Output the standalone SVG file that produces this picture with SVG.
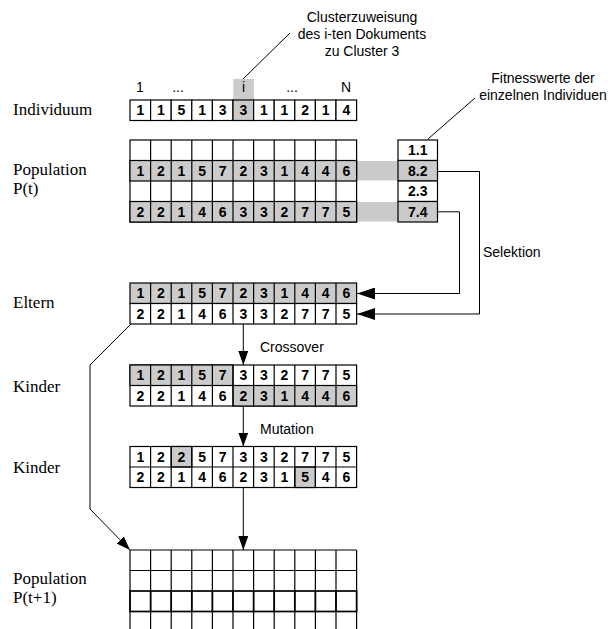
<svg xmlns="http://www.w3.org/2000/svg" width="613" height="629" viewBox="0 0 613 629">
<style>
.c{fill:#fff;stroke:#000;stroke-width:1.2}
.g{fill:#cbcbcb;stroke:#000;stroke-width:1.2}
.d{font-family:"Liberation Sans",Arial,sans-serif;font-weight:bold;font-size:14px;text-anchor:middle}
.s{font-family:"Liberation Sans",Arial,sans-serif;font-size:14px}
.m{text-anchor:middle}
.lbl{font-family:"Liberation Serif","Times New Roman",serif;font-size:17px}
.ln{fill:none;stroke:#000;stroke-width:1}
.bar{fill:#cbcbcb}
</style>
<defs>
<marker id="ah" viewBox="0 0 18 12" refX="18" refY="6" markerWidth="18" markerHeight="12" markerUnits="userSpaceOnUse" orient="auto">
<path d="M0,0 L18,6 L0,12 z" fill="#000"/>
</marker>
<marker id="av" viewBox="0 0 14 10" refX="14" refY="5" markerWidth="14" markerHeight="10" markerUnits="userSpaceOnUse" orient="auto">
<path d="M0,0 L14,5 L0,10 z" fill="#000"/>
</marker>
</defs>
<rect width="613" height="629" fill="#fff"/>

<g id="labels">
<text class="lbl" x="13" y="115">Individuum</text>
<text class="lbl" x="13" y="175">Population</text>
<text class="lbl" x="13" y="194">P(t)</text>
<text class="lbl" x="13" y="308">Eltern</text>
<text class="lbl" x="13" y="392">Kinder</text>
<text class="lbl" x="13" y="473">Kinder</text>
<text class="lbl" x="13" y="584">Population</text>
<text class="lbl" x="13" y="603">P(t+1)</text>
</g>

<g id="annotations">
<rect class="bar" x="233.3" y="79" width="20.6" height="21"/>
<text class="s" x="140" y="92" text-anchor="middle">1</text>
<text class="s" x="178" y="92" text-anchor="middle">...</text>
<text class="s" x="243.6" y="92" text-anchor="middle">i</text>
<text class="s" x="292" y="92" text-anchor="middle">...</text>
<text class="s" x="346" y="92" text-anchor="middle">N</text>
<text class="s m" x="362" y="22">Clusterzuweisung</text>
<text class="s m" x="362" y="39">des i-ten Dokuments</text>
<text class="s m" x="362" y="56">zu Cluster 3</text>
<text class="s m" x="543" y="83">Fitnesswerte der</text>
<text class="s m" x="543" y="100">einzelnen Individuen</text>
<text class="s" x="483" y="257">Selektion</text>
<text class="s" x="260" y="352">Crossover</text>
<text class="s" x="260" y="434">Mutation</text>
</g>

<g id="individuum">
<rect class="c" x="130" y="100" width="20.6" height="20.5"/><rect class="c" x="150.6" y="100" width="20.6" height="20.5"/><rect class="c" x="171.2" y="100" width="20.6" height="20.5"/><rect class="c" x="191.8" y="100" width="20.6" height="20.5"/><rect class="c" x="212.4" y="100" width="20.6" height="20.5"/><rect class="g" x="233" y="100" width="20.6" height="20.5"/><rect class="c" x="253.6" y="100" width="20.6" height="20.5"/><rect class="c" x="274.2" y="100" width="20.6" height="20.5"/><rect class="c" x="294.8" y="100" width="20.6" height="20.5"/><rect class="c" x="315.4" y="100" width="20.6" height="20.5"/><rect class="c" x="336" y="100" width="20.6" height="20.5"/>
<text class="d" y="115.3"><tspan x="140.3">1</tspan><tspan x="160.9">1</tspan><tspan x="181.5">5</tspan><tspan x="202.1">1</tspan><tspan x="222.7">3</tspan><tspan x="243.3">3</tspan><tspan x="263.9">1</tspan><tspan x="284.5">1</tspan><tspan x="305.1">2</tspan><tspan x="325.7">1</tspan><tspan x="346.3">4</tspan></text>
</g>

<g id="population-t">
<rect class="bar" x="356.6" y="161" width="41.4" height="19.5"/>
<rect class="bar" x="356.6" y="202" width="41.4" height="19.5"/>
<g fill="none" stroke="#000" stroke-width="1.2">
<rect x="130" y="140" width="226.6" height="82" class="c"/>
<rect x="130" y="160.5" width="226.6" height="20.5" class="g"/>
<rect x="130" y="201.5" width="226.6" height="20.5" class="g"/>
<path d="M150.6,140V222M171.2,140V222M191.8,140V222M212.4,140V222M233,140V222M253.6,140V222M274.2,140V222M294.8,140V222M315.4,140V222M336,140V222"/>
</g>
<text class="d" y="175.8"><tspan x="140.3">1</tspan><tspan x="160.9">2</tspan><tspan x="181.5">1</tspan><tspan x="202.1">5</tspan><tspan x="222.7">7</tspan><tspan x="243.3">2</tspan><tspan x="263.9">3</tspan><tspan x="284.5">1</tspan><tspan x="305.1">4</tspan><tspan x="325.7">4</tspan><tspan x="346.3">6</tspan></text>
<text class="d" y="216.8"><tspan x="140.3">2</tspan><tspan x="160.9">2</tspan><tspan x="181.5">1</tspan><tspan x="202.1">4</tspan><tspan x="222.7">6</tspan><tspan x="243.3">3</tspan><tspan x="263.9">3</tspan><tspan x="284.5">2</tspan><tspan x="305.1">7</tspan><tspan x="325.7">7</tspan><tspan x="346.3">5</tspan></text>
</g>

<g id="fitness">
<rect class="c" x="398" y="140" width="39.5" height="20.5"/>
<rect class="g" x="398" y="160.5" width="39.5" height="20.5"/>
<rect class="c" x="398" y="181" width="39.5" height="20.5"/>
<rect class="g" x="398" y="201.5" width="39.5" height="20.5"/>
<text class="d" x="417.7" y="155.3">1.1</text>
<text class="d" x="417.7" y="175.8">8.2</text>
<text class="d" x="417.7" y="196.3">2.3</text>
<text class="d" x="417.7" y="216.8">7.4</text>
</g>

<g id="eltern">
<g stroke="#000" stroke-width="1.2">
<rect class="g" x="130" y="283" width="226.6" height="20.5"/>
<rect class="c" x="130" y="303.5" width="226.6" height="20.5"/>
<path d="M150.6,283V324M171.2,283V324M191.8,283V324M212.4,283V324M233,283V324M253.6,283V324M274.2,283V324M294.8,283V324M315.4,283V324M336,283V324"/>
</g>
<text class="d" y="298.3"><tspan x="140.3">1</tspan><tspan x="160.9">2</tspan><tspan x="181.5">1</tspan><tspan x="202.1">5</tspan><tspan x="222.7">7</tspan><tspan x="243.3">2</tspan><tspan x="263.9">3</tspan><tspan x="284.5">1</tspan><tspan x="305.1">4</tspan><tspan x="325.7">4</tspan><tspan x="346.3">6</tspan></text>
<text class="d" y="318.8"><tspan x="140.3">2</tspan><tspan x="160.9">2</tspan><tspan x="181.5">1</tspan><tspan x="202.1">4</tspan><tspan x="222.7">6</tspan><tspan x="243.3">3</tspan><tspan x="263.9">3</tspan><tspan x="284.5">2</tspan><tspan x="305.1">7</tspan><tspan x="325.7">7</tspan><tspan x="346.3">5</tspan></text>
</g>

<g id="kinder-crossover">
<g stroke="#000" stroke-width="1.2">
<rect class="c" x="130" y="365" width="226.6" height="41"/>
<rect class="g" x="130" y="365" width="103" height="20.5"/>
<rect class="g" x="233" y="385.5" width="123.6" height="20.5"/>
<path d="M130,385.5H356.6M150.6,365V406M171.2,365V406M191.8,365V406M212.4,365V406M233,365V406M253.6,365V406M274.2,365V406M294.8,365V406M315.4,365V406M336,365V406"/>
</g>
<text class="d" y="380.3"><tspan x="140.3">1</tspan><tspan x="160.9">2</tspan><tspan x="181.5">1</tspan><tspan x="202.1">5</tspan><tspan x="222.7">7</tspan><tspan x="243.3">3</tspan><tspan x="263.9">3</tspan><tspan x="284.5">2</tspan><tspan x="305.1">7</tspan><tspan x="325.7">7</tspan><tspan x="346.3">5</tspan></text>
<text class="d" y="400.8"><tspan x="140.3">2</tspan><tspan x="160.9">2</tspan><tspan x="181.5">1</tspan><tspan x="202.1">4</tspan><tspan x="222.7">6</tspan><tspan x="243.3">2</tspan><tspan x="263.9">3</tspan><tspan x="284.5">1</tspan><tspan x="305.1">4</tspan><tspan x="325.7">4</tspan><tspan x="346.3">6</tspan></text>
</g>

<g id="kinder-mutation">
<g stroke="#000" stroke-width="1.2">
<rect class="c" x="130" y="446.5" width="226.6" height="41"/>
<rect class="g" x="171.2" y="446.5" width="20.6" height="20.5"/>
<rect class="g" x="294.8" y="467" width="20.6" height="20.5"/>
<path d="M130,467H356.6M150.6,446.5V487.5M171.2,446.5V487.5M191.8,446.5V487.5M212.4,446.5V487.5M233,446.5V487.5M253.6,446.5V487.5M274.2,446.5V487.5M294.8,446.5V487.5M315.4,446.5V487.5M336,446.5V487.5"/>
</g>
<text class="d" y="461.8"><tspan x="140.3">1</tspan><tspan x="160.9">2</tspan><tspan x="181.5">2</tspan><tspan x="202.1">5</tspan><tspan x="222.7">7</tspan><tspan x="243.3">3</tspan><tspan x="263.9">3</tspan><tspan x="284.5">2</tspan><tspan x="305.1">7</tspan><tspan x="325.7">7</tspan><tspan x="346.3">5</tspan></text>
<text class="d" y="482.3"><tspan x="140.3">2</tspan><tspan x="160.9">2</tspan><tspan x="181.5">1</tspan><tspan x="202.1">4</tspan><tspan x="222.7">6</tspan><tspan x="243.3">2</tspan><tspan x="263.9">3</tspan><tspan x="284.5">1</tspan><tspan x="305.1">5</tspan><tspan x="325.7">4</tspan><tspan x="346.3">6</tspan></text>
</g>

<g id="population-t1">
<g fill="none" stroke="#000" stroke-width="1.2">
<path d="M130,550H356.6M130,570.5H356.6M130,632H356.6"/>
<path d="M130,550V629M150.6,550V629M171.2,550V629M191.8,550V629M212.4,550V629M233,550V629M253.6,550V629M274.2,550V629M294.8,550V629M315.4,550V629M336,550V629M356.6,550V629"/>
</g>
<g fill="none" stroke="#000" stroke-width="1.7">
<rect x="130" y="591" width="226.6" height="20.5"/>
<path d="M150.6,591V611.5M171.2,591V611.5M191.8,591V611.5M212.4,591V611.5M233,591V611.5M253.6,591V611.5M274.2,591V611.5M294.8,591V611.5M315.4,591V611.5M336,591V611.5"/>
</g>
</g>

<g id="connectors">
<path class="ln" d="M243,79 L290,33"/>
<path class="ln" d="M428,139 L475,98"/>
<path class="ln" d="M438,171.5 H479.5 V314 H357" marker-end="url(#ah)"/>
<path class="ln" d="M438,211.8 H459.5 V293.5 H357" marker-end="url(#ah)"/>
<path class="ln" d="M243.3,324 V365" marker-end="url(#av)"/>
<path class="ln" d="M243.3,406 V446.5" marker-end="url(#av)"/>
<path class="ln" d="M243.3,487.5 V550" marker-end="url(#av)"/>
<path class="ln" d="M131,324 L90,365 V509 L130,550" marker-end="url(#av)"/>
</g>
</svg>
